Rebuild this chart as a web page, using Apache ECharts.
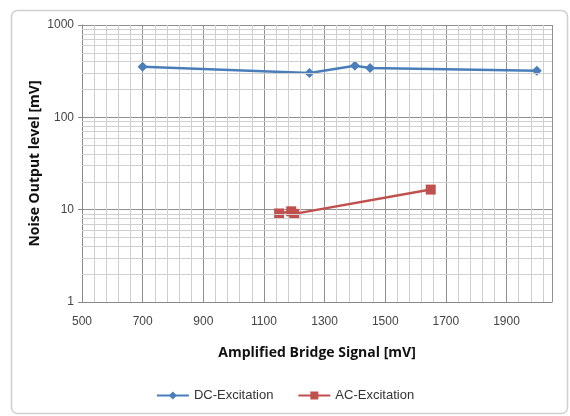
<!DOCTYPE html>
<html><head><meta charset="utf-8">
<script src="https://cdn.jsdelivr.net/npm/echarts@6/dist/echarts.min.js"></script>
<style>html,body{margin:0;padding:0;background:#fff}#c{width:570px;height:416px}</style>
</head><body><div id="c"></div>
<script>
const dcX = [700, 1250, 1400, 1450, 2000];
const dcY = [353, 302, 362, 343, 320];
const acX = [1150, 1190, 1200, 1650];
const acY = [9.1, 9.6, 9.0, 16.5];
const yMinorValues = [2,3,4,5,6,7,8,9,20,30,40,50,60,70,80,90,200,300,400,500,600,700,800,900];
const seriesNames = ['DC-Excitation', 'AC-Excitation'];
const xTitle = 'Amplified Bridge Signal [mV]';
const yTitle = 'Noise Output level [mV]';

const font = '"Liberation Sans", Arial, sans-serif';
const minorStyle = {color: '#cfcfcf', width: 1, type: 'solid'};
const chart = echarts.init(document.getElementById('c'));
chart.setOption({
  animation: false,
  backgroundColor: '#fff',
  graphic: [{
    type: 'rect', left: 9, top: 8, shape: {width: 556, height: 403, r: 6},
    style: {fill: 'none', stroke: '#d0d0d0', lineWidth: 1.5}, silent: true, z: -1
  }],
  grid: {left: 82, right: 18, top: 25, bottom: 114},
  legend: {
    data: seriesNames, bottom: 9, left: 'center', itemGap: 24, itemWidth: 32, itemHeight: 10,
    textStyle: {fontFamily: font, fontSize: 13, color: '#333'}
  },
  xAxis: {
    type: 'value', min: 500, max: 2050, interval: 200,
    name: xTitle, nameLocation: 'middle', nameGap: 44, nameMoveOverlap: false,
    nameTextStyle: {fontFamily: '"Open Sans", "DejaVu Sans", sans-serif', fontWeight: 'bold', fontSize: 14, color: '#111'},
    axisLine: {show: true, lineStyle: {color: '#888'}},
    axisTick: {show: false},
    axisLabel: {fontFamily: font, fontSize: 12, color: '#444', margin: 14, showMaxLabel: false, formatter: v => String(v)},
    splitLine: {show: true, lineStyle: {color: '#8f8f8f', width: 1}},
    minorTick: {show: false, splitNumber: 5},
    minorSplitLine: {show: true, lineStyle: minorStyle}
  },
  yAxis: {
    type: 'log', logBase: 10, min: 1, max: 1000,
    name: yTitle, nameLocation: 'middle', nameGap: 40, nameMoveOverlap: false,
    nameTextStyle: {fontFamily: '"Open Sans", "DejaVu Sans", sans-serif', fontWeight: 'bold', fontSize: 14, color: '#111'},
    axisLine: {show: true, lineStyle: {color: '#888'}},
    axisTick: {show: true, length: 4, lineStyle: {color: '#888'}},
    axisLabel: {fontFamily: font, fontSize: 12, color: '#444', margin: 8, formatter: v => String(v)},
    splitLine: {show: true, lineStyle: {color: '#8f8f8f', width: 1}},
    minorSplitLine: {show: false}
  },
  series: [
    {
      name: 'grid-minor', type: 'line', data: [], z: 1, silent: true,
      markLine: {
        silent: true, symbol: ['none', 'none'], label: {show: false},
        lineStyle: minorStyle,
        emphasis: {disabled: true},
        data: yMinorValues.map(v => ({yAxis: v, lineStyle: minorStyle}))
      }
    },
    {
      name: seriesNames[0], type: 'line', z: 3,
      data: dcX.map((x, i) => [x, dcY[i]]),
      symbol: 'diamond', symbolSize: 10,
      lineStyle: {color: '#4A7EBB', width: 2.5},
      itemStyle: {color: '#4A7EBB'}
    },
    {
      name: seriesNames[1], type: 'line', z: 3,
      data: acX.map((x, i) => [x, acY[i]]),
      symbol: 'rect', symbolSize: 10,
      lineStyle: {color: '#C0504D', width: 2.5},
      itemStyle: {color: '#C0504D'}
    }
  ]
});
</script></body></html>
